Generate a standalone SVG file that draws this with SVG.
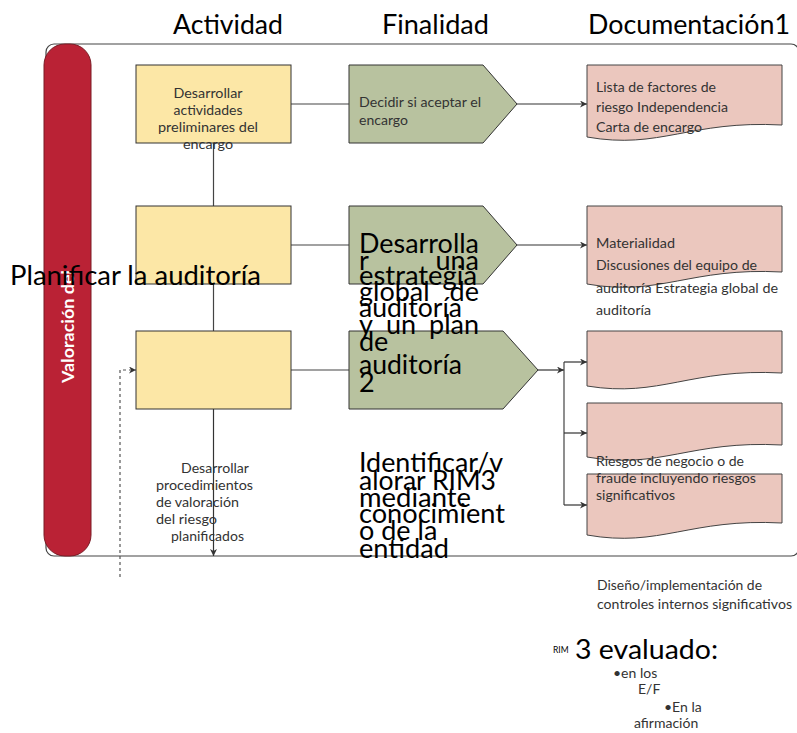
<svg xmlns="http://www.w3.org/2000/svg" width="797" height="733" viewBox="0 0 797 733">
<defs>
<marker id="arr" viewBox="0 0 10 10" refX="10" refY="5" markerWidth="9" markerHeight="7" markerUnits="userSpaceOnUse" orient="auto">
<path d="M0,0 L10,5 L0,10 L3,5 z" fill="#333"/>
</marker>
<style>
.hdr{font-family:Lato,"Liberation Sans",sans-serif;font-size:27px;fill:#000}
.big{font-family:Lato,"Liberation Sans",sans-serif;font-size:27px;fill:#000}
.sm{font-family:Lato,"Liberation Sans",sans-serif;font-size:14px;fill:#333}
.act{fill:#FCE7A6;stroke:#333;stroke-width:1}
.fin{fill:#B8C29F;stroke:#333;stroke-width:1}
.doc{fill:#EBC7BE;stroke:#444;stroke-width:1}
.ln{fill:none;stroke:#444;stroke-width:1.2}
.arw{fill:none;stroke:#333;stroke-width:1.2;marker-end:url(#arr)}
</style>
</defs>
<rect width="797" height="733" fill="#fff"/>

<g id="headers">
<text class="hdr" x="173" y="34" textLength="110" lengthAdjust="spacingAndGlyphs">Actividad</text>
<text class="hdr" x="382" y="34" textLength="107" lengthAdjust="spacingAndGlyphs">Finalidad</text>
<text class="hdr" x="588" y="34" textLength="202" lengthAdjust="spacingAndGlyphs">Documentación1</text>
</g>

<g id="frame">
<rect x="46" y="44" width="753" height="512" rx="8" fill="#fff" stroke="#444" stroke-width="1.2"/>
</g>

<g id="lane">
<rect x="44" y="44" width="47" height="512" rx="21" fill="#BA2235" stroke="#7a1b25" stroke-width="1"/>
<text x="74" y="383" transform="rotate(-90 74 383)" font-family="Lato,'Liberation Sans',sans-serif" font-weight="bold" font-size="17" fill="#fff" textLength="113" lengthAdjust="spacingAndGlyphs">Valoración del</text>
</g>

<g id="connectors">
<line class="ln" x1="213.5" y1="143" x2="213.5" y2="206"/>
<line class="ln" x1="213.5" y1="284" x2="213.5" y2="331"/>
<line class="arw" x1="213.5" y1="409" x2="213.5" y2="556"/>
<line class="ln" x1="291" y1="104" x2="349" y2="104"/>
<line class="arw" x1="517" y1="104" x2="587" y2="104"/>
<line class="ln" x1="291" y1="245" x2="349" y2="245"/>
<line class="arw" x1="517" y1="245" x2="587" y2="245"/>
<line class="ln" x1="291" y1="370" x2="349" y2="370"/>
<line class="arw" x1="538" y1="370" x2="564" y2="370"/>
<line class="ln" x1="564" y1="362" x2="564" y2="505"/>
<line class="arw" x1="564" y1="362" x2="587" y2="362"/>
<line class="arw" x1="564" y1="433" x2="587" y2="433"/>
<line class="arw" x1="564" y1="505" x2="587" y2="505"/>
<polyline points="120,577 120,370 136,370" fill="none" stroke="#555" stroke-width="1.2" stroke-dasharray="3,3" marker-end="url(#arr)"/>
</g>

<g id="act1">
<rect class="act" x="136" y="65" width="155" height="78"/>
</g>
<g id="act2">
<rect class="act" x="136" y="206" width="155" height="78"/>
</g>
<g id="act3">
<rect class="act" x="136" y="331" width="155" height="78"/>
</g>

<g id="fin1">
<path class="fin" d="M349,65 H483 L517,104 L483,143 H349 Z"/>
</g>
<g id="fin2">
<path class="fin" d="M349,206 H483 L517,245 L483,284 H349 Z"/>
</g>
<g id="fin3">
<path class="fin" d="M349,331 H503 L538,370 L503,409 H349 Z"/>
</g>

<g id="doc1">
<path class="doc" d="M587,65 H782 V125 C690,120 660,150 587,137 Z"/>
</g>
<g id="doc2">
<path class="doc" d="M587,206 H782 V272 C690,267 660,297 587,284 Z"/>
</g>
<g id="doc3">
<path class="doc" d="M587,331 H782 V373 C690,368 660,398 587,386 Z"/>
</g>
<g id="doc4">
<path class="doc" d="M587,403 H782 V445 C690,440 660,470 587,457 Z"/>
</g>
<g id="doc5">
<path class="doc" d="M587,474 H782 V523 C690,518 660,548 587,535 Z"/>
</g>

<g id="texts-act">
<text class="sm" x="208" y="98" text-anchor="middle" textLength="69" lengthAdjust="spacingAndGlyphs">Desarrollar</text>
<text class="sm" x="208" y="115" text-anchor="middle" textLength="69" lengthAdjust="spacingAndGlyphs">actividades</text>
<text class="sm" x="208" y="132" text-anchor="middle" textLength="100" lengthAdjust="spacingAndGlyphs">preliminares del</text>
<text class="sm" x="208" y="149" text-anchor="middle" textLength="50" lengthAdjust="spacingAndGlyphs">encargo</text>
<text class="sm" x="181" y="473" textLength="68" lengthAdjust="spacingAndGlyphs">Desarrollar</text>
<text class="sm" x="156" y="490" textLength="97" lengthAdjust="spacingAndGlyphs">procedimientos</text>
<text class="sm" x="156" y="507" textLength="83" lengthAdjust="spacingAndGlyphs">de valoración</text>
<text class="sm" x="156" y="524" textLength="61" lengthAdjust="spacingAndGlyphs">del riesgo</text>
<text class="sm" x="171" y="541" textLength="73" lengthAdjust="spacingAndGlyphs">planificados</text>
</g>

<g id="texts-fin">
<text class="sm" x="359" y="107" textLength="122" lengthAdjust="spacingAndGlyphs">Decidir si aceptar el</text>
<text class="sm" x="359" y="125" textLength="49" lengthAdjust="spacingAndGlyphs">encargo</text>
<text class="big" x="359" y="253" textLength="120" lengthAdjust="spacingAndGlyphs">Desarrolla</text>
<text class="big" x="359" y="270">r</text>
<text class="big" x="479" y="270" text-anchor="end">una</text>
<text class="big" x="359" y="285" textLength="118" lengthAdjust="spacingAndGlyphs">estrategia</text>
<text class="big" x="359" y="301">global</text>
<text class="big" x="479" y="301" text-anchor="end">de</text>
<text class="big" x="359" y="317" textLength="103" lengthAdjust="spacingAndGlyphs">auditoría</text>
<text class="big" x="359" y="334">y</text>
<text class="big" x="386" y="334">un</text>
<text class="big" x="479" y="334" text-anchor="end">plan</text>
<text class="big" x="359" y="351">de</text>
<text class="big" x="359" y="374" textLength="103" lengthAdjust="spacingAndGlyphs">auditoría</text>
<text class="big" x="359" y="392">2</text>
<text class="big" x="359" y="472" textLength="144" lengthAdjust="spacingAndGlyphs">Identificar/v</text>
<text class="big" x="359" y="490" textLength="137" lengthAdjust="spacingAndGlyphs">alorar RIM3</text>
<text class="big" x="359" y="507" textLength="112" lengthAdjust="spacingAndGlyphs">mediante</text>
<text class="big" x="359" y="523" textLength="146" lengthAdjust="spacingAndGlyphs">conocimient</text>
<text class="big" x="359" y="540">o de la</text>
<text class="big" x="359" y="558" textLength="90" lengthAdjust="spacingAndGlyphs">entidad</text>
</g>

<g id="texts-doc">
<text class="sm" x="596" y="92" textLength="120" lengthAdjust="spacingAndGlyphs">Lista de factores de</text>
<text class="sm" x="596" y="112" textLength="132" lengthAdjust="spacingAndGlyphs">riesgo Independencia</text>
<text class="sm" x="596" y="132" textLength="106" lengthAdjust="spacingAndGlyphs">Carta de encargo</text>
<text class="sm" x="596" y="248" textLength="79" lengthAdjust="spacingAndGlyphs">Materialidad</text>
<text class="sm" x="596" y="270" textLength="161" lengthAdjust="spacingAndGlyphs">Discusiones del equipo de</text>
<text class="sm" x="596" y="293" textLength="182" lengthAdjust="spacingAndGlyphs">auditoría Estrategia global de</text>
<text class="sm" x="596" y="315" textLength="55" lengthAdjust="spacingAndGlyphs">auditoría</text>
<text class="sm" x="596" y="466" textLength="148" lengthAdjust="spacingAndGlyphs">Riesgos de negocio o de</text>
<text class="sm" x="596" y="483" textLength="160" lengthAdjust="spacingAndGlyphs">fraude incluyendo riesgos</text>
<text class="sm" x="596" y="500" textLength="79" lengthAdjust="spacingAndGlyphs">significativos</text>
<text class="sm" x="597" y="590" textLength="165" lengthAdjust="spacingAndGlyphs">Diseño/implementación  de</text>
<text class="sm" x="597" y="609" textLength="195" lengthAdjust="spacingAndGlyphs">controles internos significativos</text>
<text x="553" y="653" font-family="Lato,'Liberation Sans',sans-serif" font-size="8.5" fill="#000">RIM</text>
<text class="big" x="575" y="659" textLength="143" lengthAdjust="spacingAndGlyphs">3  evaluado:</text>
<text class="sm" x="613" y="678">•en los</text>
<text class="sm" x="638" y="694">E/F</text>
<text class="sm" x="664" y="712">•En la</text>
<text class="sm" x="634" y="728">afirmación</text>
</g>

<g id="title">
<text class="big" x="10" y="285" textLength="251" lengthAdjust="spacingAndGlyphs">Planificar la auditoría</text>
</g>
</svg>
